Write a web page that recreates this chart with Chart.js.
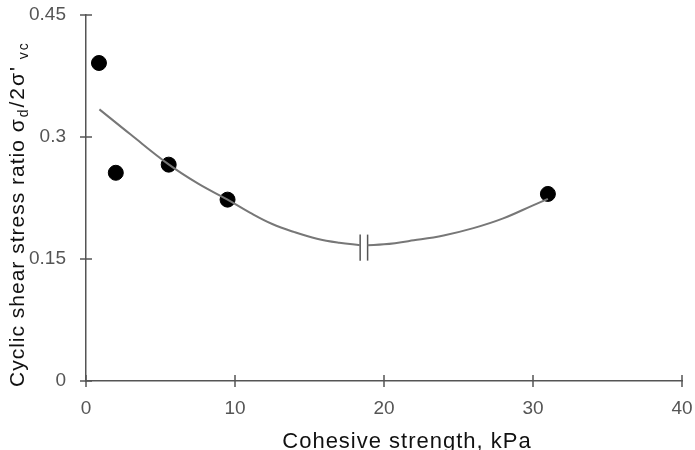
<!DOCTYPE html>
<html>
<head>
<meta charset="utf-8">
<script src="https://cdn.jsdelivr.net/npm/chart.js@4"></script>
<style>
  body { margin: 0; background: #fff; }
  #wrap { width: 695px; height: 450px; }
</style>
</head>
<body>
<div id="wrap"><canvas id="chart" width="695" height="450"></canvas></div>
<script>
// Measured points
const pointX = [0.87, 2.0, 5.55, 9.5, 31.0];
const pointY = [0.391, 0.256, 0.266, 0.223, 0.230];

// Trend curve, split at the axis break
const curveLeftX = [0.9, 3, 5.5, 7.5, 9.5, 11, 12.5, 14, 15.5, 17, 18.4];
const curveLeftY = [0.334, 0.303, 0.267, 0.243, 0.223, 0.207, 0.193, 0.183, 0.175, 0.170, 0.167];
const curveRightX = [18.9, 20, 22, 24, 26, 28, 30, 31.0];
const curveRightY = [0.167, 0.168, 0.173, 0.179, 0.188, 0.200, 0.216, 0.224];

// Break marks (two short vertical bars)
const breakX = [18.4, 18.9];
const breakY = [0.148, 0.180];

const xTicks = [0, 10, 20, 30, 40];
const yTicks = [0, 0.15, 0.3, 0.45];

const xTitle = 'Cohesive strength, kPa';
const yTitleParts = [
    { text: 'Cyclic shear stress ratio ', sub: false },
    { text: 'σ', sub: false },
    { text: 'd', sub: true },
    { text: "/2σ'", sub: false },
    { text: ' vc', sub: true }
];

const FONT = '"Liberation Sans", Arial, sans-serif';

function toXY(xs, ys) {
    return xs.map((x, i) => ({ x: x, y: ys[i] }));
}

const curveStyle = {
    showLine: true,
    pointRadius: 0,
    borderColor: '#777',
    borderWidth: 2,
    tension: 0.4
};

const datasets = [
    Object.assign({ data: toXY(curveLeftX, curveLeftY) }, curveStyle),
    Object.assign({ data: toXY(curveRightX, curveRightY) }, curveStyle),
    ...breakX.map(bx => ({
        data: breakY.map(by => ({ x: bx, y: by })),
        showLine: true,
        pointRadius: 0,
        borderColor: '#555',
        borderWidth: 1.5
    })),
    {
        data: toXY(pointX, pointY),
        pointRadius: 7.5,
        pointHoverRadius: 7.5,
        pointBackgroundColor: '#000',
        pointBorderColor: '#000',
        showLine: false
    }
];

// Ticks crossing the axes plus the axis titles
const axisDecor = {
    id: 'axisDecor',
    afterDraw(chart) {
        const ctx = chart.ctx;
        const xs = chart.scales.x;
        const ys = chart.scales.y;
        const area = chart.chartArea;
        ctx.save();
        ctx.strokeStyle = '#555';
        ctx.lineWidth = 1.5;
        xTicks.forEach(v => {
            const px = xs.getPixelForValue(v);
            ctx.beginPath();
            ctx.moveTo(px, area.bottom - 6);
            ctx.lineTo(px, area.bottom + 6);
            ctx.stroke();
        });
        yTicks.forEach(v => {
            const py = ys.getPixelForValue(v);
            ctx.beginPath();
            ctx.moveTo(area.left - 6, py);
            ctx.lineTo(area.left + 6, py);
            ctx.stroke();
        });

        // x title
        ctx.fillStyle = '#111';
        ctx.font = '22px ' + FONT;
        ctx.letterSpacing = '1px';
        ctx.textAlign = 'center';
        ctx.textBaseline = 'alphabetic';
        ctx.fillText(xTitle, 407, 448);

        // y title with subscripts
        ctx.translate(24, 387);
        ctx.rotate(-Math.PI / 2);
        ctx.textAlign = 'left';
        let pos = 0;
        yTitleParts.forEach((p, i) => {
            ctx.letterSpacing = i === 0 ? '1px' : '2px';
            ctx.font = (p.sub ? '14px ' : '21px ') + FONT;
            ctx.fillText(p.text, pos, p.sub ? 4 : 0);
            pos += ctx.measureText(p.text).width;
        });
        ctx.restore();
    }
};

new Chart(document.getElementById('chart'), {
    type: 'scatter',
    data: { datasets: datasets },
    options: {
        responsive: false,
        animation: false,
        layout: { padding: { top: 15, right: 13, left: 0, bottom: 0 } },
        plugins: {
            legend: { display: false },
            tooltip: { enabled: false }
        },
        scales: {
            x: {
                min: 0,
                max: 40,
                afterBuildTicks: s => { s.ticks = xTicks.map(v => ({ value: v })); },
                afterFit: s => { s.height = 69; s.paddingLeft = 0; s.paddingRight = 0; },
                grid: { display: true, drawOnChartArea: false, drawTicks: false },
                border: { display: true, color: '#555', width: 1.5 },
                ticks: {
                    padding: 16,
                    color: '#555',
                    font: { family: FONT, size: 19 }
                }
            },
            y: {
                min: 0,
                max: 0.45,
                afterBuildTicks: s => { s.ticks = yTicks.map(v => ({ value: v })); },
                afterFit: s => { s.width = 86; s.paddingTop = 0; s.paddingBottom = 0; },
                grid: { display: true, drawOnChartArea: false, drawTicks: false },
                border: { display: true, color: '#555', width: 1.5 },
                ticks: {
                    padding: 20,
                    color: '#555',
                    font: { family: FONT, size: 19 },
                    callback: v => String(+v.toFixed(2))
                }
            }
        }
    },
    plugins: [axisDecor]
});
</script>
</body>
</html>
